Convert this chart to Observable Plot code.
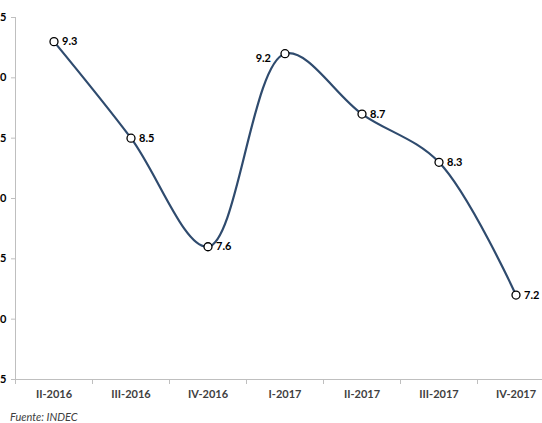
<!DOCTYPE html>
<html><head><meta charset="utf-8">
<script src="https://cdn.jsdelivr.net/npm/d3@7"></script>
<script src="https://cdn.jsdelivr.net/npm/@observablehq/plot@0.6"></script>
<style>
html,body{margin:0;padding:0;background:#fff;overflow:hidden;width:542px;height:423px;}
#chart{position:absolute;left:-30px;top:0;width:590px;}
#chart svg{max-width:none;}
#cap{position:absolute;left:10px;top:410px;font:italic 11px Lato,"Open Sans",sans-serif;color:#404040;}
</style></head>
<body>
<div id="chart"></div>
<div id="cap">Fuente: INDEC</div>
<script>
const quarters = ["II-2016","III-2016","IV-2016","I-2017","II-2017","III-2017","IV-2017"];
const values = [9.3, 8.5, 7.6, 9.2, 8.7, 8.3, 7.2];
const yTicks = [6.5, 7.0, 7.5, 8.0, 8.5, 9.0, 9.5];
const labelSide = [1, 1, 1, -1, 1, 1, 1];

const data = quarters.map((q, i) => ({i, q, v: values[i], side: labelSide[i]}));
const boundaries = d3.range(quarters.length + 1).map(k => k - 0.5);

const plot = Plot.plot({
  width: 590, height: 405,
  marginLeft: 45, marginRight: 6, marginTop: 17, marginBottom: 26,
  style: {fontFamily: "Lato, 'Open Sans', sans-serif", fontSize: "11px", fontWeight: "bold", color: "#000", background: "#fff"},
  x: {type: "linear", domain: [-0.5, quarters.length - 0.5], axis: null},
  y: {domain: [6.5, 9.5], axis: null},
  marks: [
    Plot.ruleX([-0.5], {stroke: "#BFBFBF", strokeWidth: 1}),
    Plot.ruleY([6.5], {stroke: "#BFBFBF", strokeWidth: 1}),
    Plot.axisY({ticks: yTicks, tickSize: 4, tickPadding: 5, stroke: "#BFBFBF", tickFormat: d => d.toFixed(1), label: null, fill: "#000", fontWeight: "bold"}),
    Plot.axisX({ticks: boundaries, tickSize: 5, tickFormat: () => "", stroke: "#BFBFBF", label: null}),
    Plot.axisX({ticks: d3.range(quarters.length), tickSize: 0, tickPadding: 11, tickFormat: i => quarters[i], label: null, fill: "#404040", fontWeight: "bold"}),
    Plot.line(data, {x: "i", y: "v", curve: "catmull-rom", stroke: "#2F4B6E", strokeWidth: 2.2}),
    Plot.dot(data, {x: "i", y: "v", r: 4, fill: "#fff", stroke: "#000", strokeWidth: 1.3}),
    Plot.text(data, {x: "i", y: "v", text: d => d.v.toFixed(1), textAnchor: "start", filter: d => d.side > 0, dx: 8, fill: "#000", fontWeight: "bold"}),
    Plot.text(data, {x: "i", y: "v", text: d => d.v.toFixed(1), textAnchor: "end", filter: d => d.side < 0, dx: -14, dy: 5, fill: "#000", fontWeight: "bold"})
  ]
});
document.getElementById("chart").appendChild(plot);
</script>
</body></html>
